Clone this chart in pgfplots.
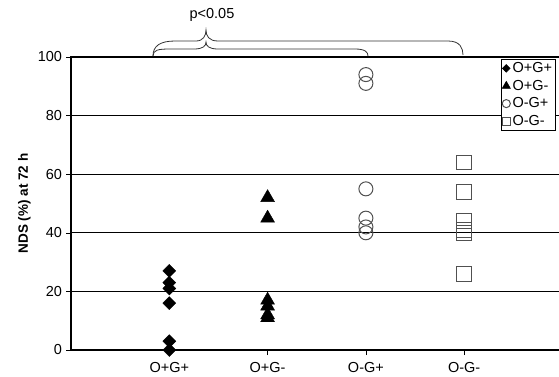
\documentclass[border=0pt]{standalone}
\usepackage{fontspec}
\setmainfont{Liberation Sans}
\usepackage{pgfplots}
\pgfplotsset{compat=1.18}
\definecolor{mkgray}{HTML}{505050}
\begin{document}
\begin{tikzpicture}
\begin{axis}[
  at={(71pt,26pt)}, anchor=south west,
  scale only axis, width=491.5pt, height=293pt,
  xmin=0, xmax=5, ymin=0, ymax=100,
  clip=false,
  axis line style={line width=2.6pt},
  ymajorgrids, grid style={black, line width=0.8pt},
  ytick={0,20,40,60,80,100},
  xtick={1,2,3,4},
  xticklabels={O+G+, O+G-, O-G+, O-G-},
  tick align=outside, ytick pos=left, xtick pos=bottom,
  major tick length=5pt,
  tick style={black, line width=0.6pt},
  /pgf/number format/assume math mode=true,
  tick label style={font=\fontsize{14.5}{16}\selectfont},
  yticklabel style={xshift=-0.5pt},
  xticklabel style={yshift=-4pt},
  every axis y label/.style={at={(axis description cs:-0.095,0.5)}, rotate=90, anchor=center},
  ylabel={\bfseries NDS (\%) at 72 h},
  ylabel style={font=\fontsize{13.5}{15}\selectfont},
  legend style={at={(rel axis cs:0.874,0.993)}, anchor=north west,
    font=\fontsize{14.5}{16}\selectfont, draw=black, line width=0.6pt,
    fill=white, inner sep=1.2pt, row sep=2pt, cells={anchor=west}},
  legend cell align=left,
  legend image code/.code={\draw[#1, line width=0.6pt, every mark/.append style={scale=0.58}] plot coordinates {(0pt,0pt)};},
]
\addplot[only marks, mark=square*, mark size=4.6pt, mark options={rotate=45, fill=black, draw=black}]
  coordinates {(1,27) (1,23) (1,21) (1,16) (1,3) (1,0)};
\addlegendentry{O+G+}
\addplot[only marks, mark=triangle*, mark size=8pt, mark options={fill=black, draw=black}]
  coordinates {(2,52) (2,45) (2,17) (2,15) (2,12) (2,11)};
\addlegendentry{O+G-}
\addplot[only marks, mark=o, mark size=7pt, mark options={draw=mkgray, line width=1pt}]
  coordinates {(3,94) (3,91) (3,55) (3,45) (3,42) (3,40)};
\addlegendentry{O-G+}
\addplot[only marks, mark=square, mark size=7.3pt, mark options={draw=mkgray, line width=1pt}]
  coordinates {(4,64) (4,54) (4,44) (4,41) (4,40) (4,26)};
\addlegendentry{O-G-}
\end{axis}
\begin{scope}[x=1pt,y=1pt]
\draw[black!80, line width=0.8pt] (153,320) .. controls (153,326) and (158,327) .. (170,327) -- (194,327) .. controls (203,327) and (206,330) .. (206,334) .. controls (206,330) and (209,327) .. (218,327) -- (355,327) .. controls (365,327) and (368,324) .. (368,320);
\draw[black!80, line width=0.8pt] (153,320) .. controls (153,330) and (160,335) .. (175,335) -- (196,335) .. controls (203,335) and (206,340) .. (206,346) .. controls (206,340) and (209,335) .. (218,335) -- (448,335) .. controls (460,335) and (463,328) .. (463,321);
\node[font=\fontsize{14.5}{16}\selectfont] at (212,361) {p<0.05};
\end{scope}
\pgfresetboundingbox
\path[use as bounding box] (0,0) rectangle (559pt,376pt);
\end{tikzpicture}
\end{document}
